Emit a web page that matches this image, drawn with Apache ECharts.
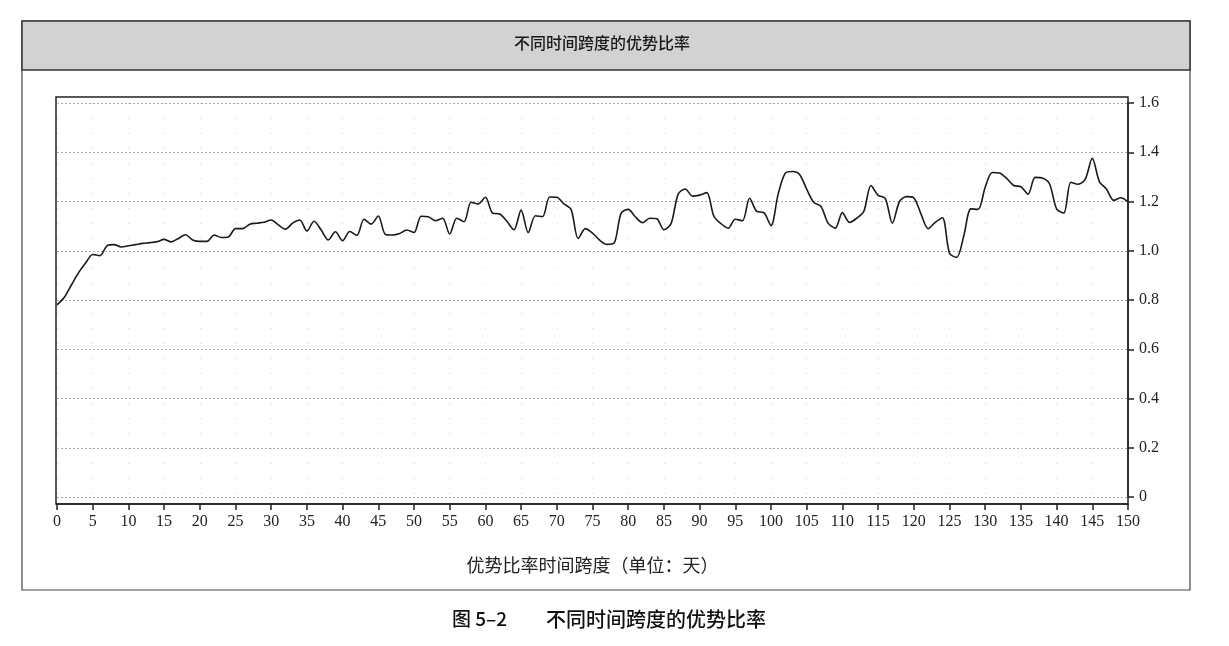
<!DOCTYPE html>
<html lang="zh">
<head>
  <meta charset="UTF-8">
  <title>不同时间跨度的优势比率</title>
  <style>
    html, body { margin: 0; padding: 0; background: #fff; }
    #chart { width: 1229px; height: 646px; }
  </style>
</head>
<body>
  <div id="chart"></div>
  <script src="https://cdn.jsdelivr.net/npm/echarts@6/dist/echarts.min.js"></script>
  <script>
    // 优势比率，按天 0 ~ 150
    var ratio = [
      0.78, 0.81, 0.86, 0.91, 0.95, 0.985, 0.98, 1.02, 1.025, 1.015,
      1.02, 1.025, 1.03, 1.033, 1.037, 1.046, 1.036, 1.05, 1.065, 1.044,
      1.038, 1.038, 1.064, 1.054, 1.056, 1.09, 1.09, 1.108, 1.112, 1.116,
      1.125, 1.105, 1.088, 1.112, 1.125, 1.08, 1.12, 1.084, 1.044, 1.077,
      1.041, 1.078, 1.062, 1.128, 1.108, 1.141, 1.066, 1.064, 1.07, 1.084,
      1.074, 1.14, 1.138, 1.122, 1.132, 1.068, 1.132, 1.118, 1.197, 1.19,
      1.217, 1.153, 1.149, 1.12, 1.085, 1.165, 1.074, 1.142, 1.138, 1.218,
      1.217, 1.19, 1.168, 1.05, 1.09, 1.072, 1.043, 1.026, 1.03, 1.152,
      1.168, 1.138, 1.114, 1.132, 1.13, 1.085, 1.11, 1.23, 1.251, 1.222,
      1.226, 1.236, 1.14, 1.11, 1.092, 1.128, 1.122, 1.213, 1.16, 1.155,
      1.102, 1.23, 1.315, 1.322, 1.31, 1.25, 1.196, 1.18, 1.112, 1.092,
      1.155, 1.115, 1.132, 1.16, 1.265, 1.225, 1.213, 1.112, 1.2, 1.22,
      1.215, 1.15, 1.09, 1.115, 1.134, 0.99, 0.973, 1.06, 1.17, 1.168,
      1.258, 1.318, 1.316, 1.294, 1.265, 1.26, 1.23, 1.298, 1.295, 1.272,
      1.17, 1.153, 1.278, 1.27, 1.29, 1.375, 1.28, 1.25, 1.205, 1.215,
      1.198
    ];
    var xMin = 0, xMax = 150, xStep = 5;
    var yMin = 0, yMax = 1.6, yStep = 0.2;
    var titleText = '不同时间跨度的优势比率';
    var xName = '优势比率时间跨度（单位：天）';
    var figNo = '图 5–2';
    var caption = '不同时间跨度的优势比率';

    var chart = echarts.init(document.getElementById('chart'));

    var seriesData = ratio.map(function(v, i) { return [i, v]; });

    var option = {
      animation: false,
      backgroundColor: '#fff',
      grid: {
        left: 57,
        right: 101,
        top: 103,
        bottom: 149
      },
      graphic: [
        // 外框
        {
          type: 'rect', z: 0,
          shape: { x: 22, y: 21, width: 1168, height: 569 },
          style: { fill: '#fff', stroke: '#444', lineWidth: 1.2 }
        },
        // 标题栏
        {
          type: 'rect', z: 1,
          shape: { x: 22, y: 21, width: 1168, height: 49 },
          style: { fill: '#d2d2d2', stroke: '#333', lineWidth: 1.5 }
        },
        {
          type: 'text', z: 2, left: 514, top: 35,
          style: {
            text: titleText, fill: '#1a1a1a',
            font: '500 16px "Noto Sans CJK SC", sans-serif'
          }
        },
        // 绘图区边框
        {
          type: 'rect', z: 10, silent: true,
          shape: { x: 56, y: 97, width: 1072, height: 407 },
          style: { fill: 'none', stroke: '#222', lineWidth: 1.5 }
        },
        // 图注
        {
          type: 'text', z: 2, left: 452, top: 609,
          style: {
            text: figNo, fill: '#111',
            font: '500 19px "Noto Sans CJK SC", sans-serif'
          }
        },
        {
          type: 'text', z: 2, left: 546, top: 609,
          style: {
            text: caption, fill: '#111',
            font: '500 20px "Noto Sans CJK SC", sans-serif'
          }
        }
      ],
      xAxis: {
        type: 'value',
        min: xMin,
        max: xMax,
        interval: xStep,
        offset: 7,
        name: xName,
        nameLocation: 'middle',
        nameGap: 52,
        nameTextStyle: {
          color: '#222',
          fontSize: 18,
          fontFamily: '"Noto Sans CJK SC", serif'
        },
        axisLine: { show: true, onZero: false, lineStyle: { color: '#222', width: 1.5 } },
        axisTick: { show: true, length: 6, lineStyle: { color: '#222', width: 1.5 } },
        axisLabel: {
          color: '#222',
          fontSize: 16,
          fontFamily: '"Liberation Serif", serif',
          margin: 10
        },
        splitLine: {
          show: true,
          lineStyle: { color: '#d6d6d6', type: [1, 14], width: 1 }
        }
      },
      yAxis: {
        type: 'value',
        position: 'right',
        min: yMin,
        max: yMax,
        interval: yStep,
        axisLine: { show: true, onZero: false, lineStyle: { color: '#222', width: 1.5 } },
        axisTick: { show: true, inside: false, length: 6, lineStyle: { color: '#222', width: 1.5 } },
        axisLabel: {
          color: '#222',
          fontSize: 16,
          fontFamily: '"Liberation Serif", serif',
          margin: 11,
          formatter: function(v) { return v === 0 ? '0' : v.toFixed(1); }
        },
        splitLine: {
          show: true,
          lineStyle: { color: '#a8a8a8', type: [2, 2], width: 1 }
        }
      },
      series: [{
        type: 'line',
        data: seriesData,
        showSymbol: false,
        smooth: 0.3,
        lineStyle: { color: '#1a1a1a', width: 1.6 },
        z: 5
      }]
    };

    chart.setOption(option);
  </script>
</body>
</html>
